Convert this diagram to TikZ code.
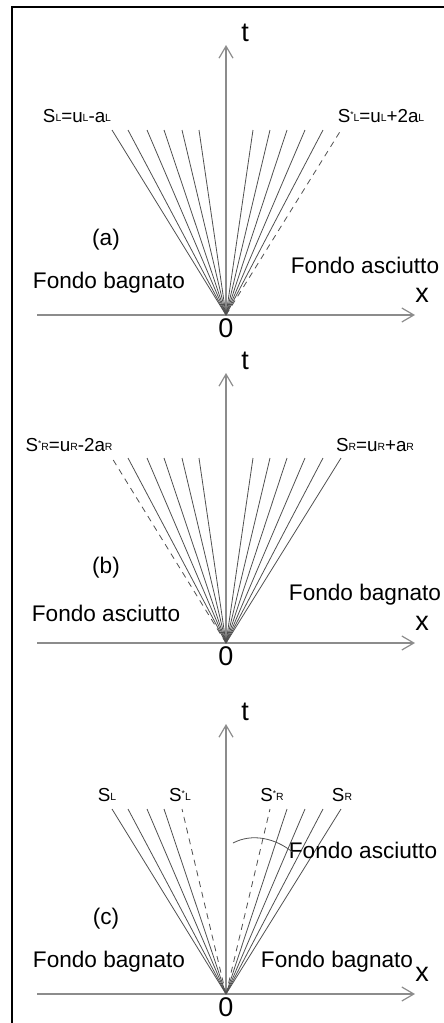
\documentclass[tikz,border=0pt]{standalone}
\usepackage{fontspec}
\setmainfont{Liberation Sans}
\usetikzlibrary{arrows.meta}
\definecolor{axisgray}{HTML}{8C8C8C}
\definecolor{fangray}{HTML}{505050}
\newcommand{\ix}[1]{{\fontsize{5.2}{5}\selectfont\raisebox{0.6pt}{#1}}}
\newcommand{\strm}{\raisebox{2.6pt}{\fontsize{4.2}{4}\selectfont *}}

\begin{document}
\begin{tikzpicture}[x=0.5pt,y=-0.5pt,
    ax/.style={draw=axisgray,line width=0.6pt,-{Straight Barb[length=6pt,width=7pt]}},
    fan/.style={draw=fangray,line width=0.4pt},
    dsh/.style={fan,dash pattern=on 3pt off 2.5pt},
    lab/.style={font=\fontsize{9.4}{10}\selectfont,inner sep=0pt},
    reg/.style={font=\fontsize{11.3}{13}\selectfont,inner sep=0pt},
    axl/.style={font=\fontsize{13.5}{15}\selectfont,inner sep=0pt}]
  \useasboundingbox (0,0) rectangle (444,1023);
  \draw[line width=1pt] (12,1023) -- (12,7) -- (444,7);
  % axes of the three panels
  \foreach \p/\dy in {a/0,b/328,c/679}{
    \begin{scope}[shift={(0,\dy)}]
      \coordinate (\p-o) at (226,315);
      \coordinate (\p-xs) at (37,315);
      \coordinate (\p-xe) at (415,315);
      \coordinate (\p-te) at (226,45);
      \draw[ax] (\p-xs) -- (\p-xe);
      \draw[ax] (\p-o) -- (\p-te);
      \node[axl] (\p-t) at (245,33) {t};
      \node[axl] (\p-x) at (422,295) {x};
      \node[axl] (\p-z) at (226,328) {0};
      \node[reg] (\p-tag) at (106,240) {(\p)};
    \end{scope}}
  % (a)
  \foreach \xt [count=\i] in {112,128,147,164,182,199,253,270,287,305,323}{
    \coordinate (a-f\i) at (\xt,130);
    \draw[fan] (a-o) -- (a-f\i);}
  \coordinate (a-d) at (341,130);
  \draw[dsh] (a-o) -- (a-d);
  \node[lab] (a-sl) at (77,116) {S\ix{L}=u\ix{L}-a\ix{L}};
  \node[lab] (a-ssl) at (381,116) {S\strm\ix{L}=u\ix{L}+2a\ix{L}};
  \node[reg] (a-wet) at (109,283) {Fondo bagnato};
  \node[reg] (a-dry) at (365,265) {Fondo asciutto};
  % (b)
  \foreach \xt [count=\i] in {128,147,164,182,199,253,270,287,305,323,341}{
    \coordinate (b-f\i) at (\xt,458);
    \draw[fan] (b-o) -- (b-f\i);}
  \coordinate (b-d) at (112,458);
  \draw[dsh] (b-o) -- (b-d);
  \node[lab] (b-ssr) at (69,445) {S\strm\ix{R}=u\ix{R}-2a\ix{R}};
  \node[lab] (b-sr) at (375,445) {S\ix{R}=u\ix{R}+a\ix{R}};
  \node[reg] (b-dry) at (106,613) {Fondo asciutto};
  \node[reg] (b-wet) at (365,595) {Fondo bagnato};
  % (c)
  \foreach \xt [count=\i] in {112,128,147,164,287,305,323,341}{
    \coordinate (c-f\i) at (\xt,809);
    \draw[fan] (c-o) -- (c-f\i);}
  \foreach \xt [count=\i] in {182,270}{
    \coordinate (c-d\i) at (\xt,809);
    \draw[dsh] (c-o) -- (c-d\i);}
  \node[lab] (c-sl) at (107,795) {S\ix{L}};
  \node[lab] (c-ssl) at (180,795) {S\strm\ix{L}};
  \node[lab] (c-ssr) at (272,795) {S\strm\ix{R}};
  \node[lab] (c-sr) at (342,795) {S\ix{R}};
  \node[reg] (c-wetl) at (109,962) {Fondo bagnato};
  \node[reg] (c-wetr) at (337,962) {Fondo bagnato};
  \node[reg] (c-dry) at (363,850) {Fondo asciutto};
  \coordinate (c-arc) at (233,843);
  \draw[fangray,line width=0.4pt] (c-arc) .. controls (252,833) and (275,838) .. ([xshift=2pt,yshift=-1pt]c-dry.west);
\end{tikzpicture}
\end{document}
